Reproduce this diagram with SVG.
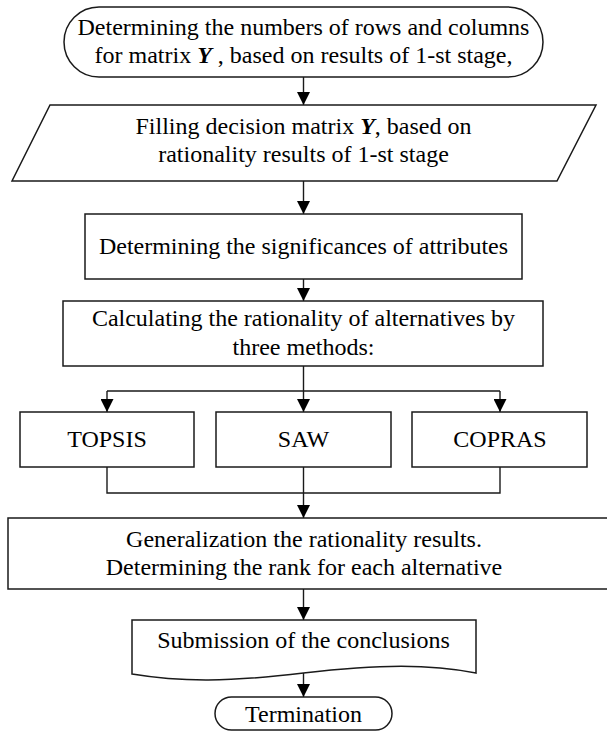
<svg xmlns="http://www.w3.org/2000/svg" width="607" height="731" viewBox="0 0 607 731">
<style>
.s{fill:#fff;stroke:#1a1a1a;stroke-width:1.5}
.t{font-family:"Liberation Serif","Times New Roman",serif;font-size:24px;fill:#000;text-anchor:middle}
.c{fill:none;stroke:#1a1a1a;stroke-width:1.4}
.yb{font-weight:bold;font-style:italic}
</style>
<defs>
<marker id="ah" viewBox="0 0 13 13" refX="13" refY="6.5" markerWidth="13" markerHeight="13" markerUnits="userSpaceOnUse" orient="auto">
<path d="M0,0 L13,6.5 L0,13 z" fill="#000"/>
</marker>
</defs>
<rect width="607" height="731" fill="#fff"/>
<g id="connectors">
<path class="c" d="M303.5,77 V105" marker-end="url(#ah)"/>
<path class="c" d="M303.5,181 V214" marker-end="url(#ah)"/>
<path class="c" d="M303.5,279 V301" marker-end="url(#ah)"/>
<path class="c" d="M303.5,366 V391 M107,391 H500"/>
<path class="c" d="M107,391 V412" marker-end="url(#ah)"/>
<path class="c" d="M303.5,391 V412" marker-end="url(#ah)"/>
<path class="c" d="M500,391 V412" marker-end="url(#ah)"/>
<path class="c" d="M107,467 V493 H500 V467"/>
<path class="c" d="M303.5,467 V518" marker-end="url(#ah)"/>
<path class="c" d="M303.5,589 V620" marker-end="url(#ah)"/>
<path class="c" d="M303.5,673 V697" marker-end="url(#ah)"/>
</g>
<g id="start">
<rect class="s" x="64" y="7" width="479" height="70" rx="35" ry="35"/>
<text class="t" x="303.5" y="35">Determining the numbers of rows and columns</text>
<text class="t" x="303.5" y="63">for matrix <tspan class="yb">Y</tspan> , based on results of 1-st stage,</text>
</g>
<g id="fill">
<polygon class="s" points="50,105 596,105 557,181 12,181"/>
<text class="t" x="303.5" y="134">Filling decision matrix <tspan class="yb">Y</tspan>, based on</text>
<text class="t" x="303.5" y="162">rationality results of 1-st stage</text>
</g>
<g id="significances">
<rect class="s" x="85" y="214" width="437" height="65"/>
<text class="t" x="303.5" y="254">Determining the significances of attributes</text>
</g>
<g id="calculating">
<rect class="s" x="63" y="301" width="480" height="65"/>
<text class="t" x="303.5" y="326">Calculating the rationality of alternatives by</text>
<text class="t" x="303.5" y="355">three methods:</text>
</g>
<g id="topsis">
<rect class="s" x="20" y="412" width="174" height="55"/>
<text class="t" x="107" y="447">TOPSIS</text>
</g>
<g id="saw">
<rect class="s" x="216" y="412" width="175" height="55"/>
<text class="t" x="303.5" y="447">SAW</text>
</g>
<g id="copras">
<rect class="s" x="412" y="412" width="175" height="55"/>
<text class="t" x="500" y="447">COPRAS</text>
</g>
<g id="generalization">
<rect class="s" x="8" y="518" width="610" height="71"/>
<text class="t" x="304" y="547">Generalization the rationality results.</text>
<text class="t" x="304" y="575">Determining the rank for each alternative</text>
</g>
<g id="submission">
<path class="s" d="M132,620 H476 V673 C430,664 380,664 303.5,673 C230,682 180,682 132,674 Z"/>
<text class="t" x="303.5" y="648">Submission of the conclusions</text>
</g>
<g id="termination">
<rect class="s" x="215" y="697" width="177" height="33" rx="16.5" ry="16.5"/>
<text class="t" x="303.5" y="722">Termination</text>
</g>
</svg>
